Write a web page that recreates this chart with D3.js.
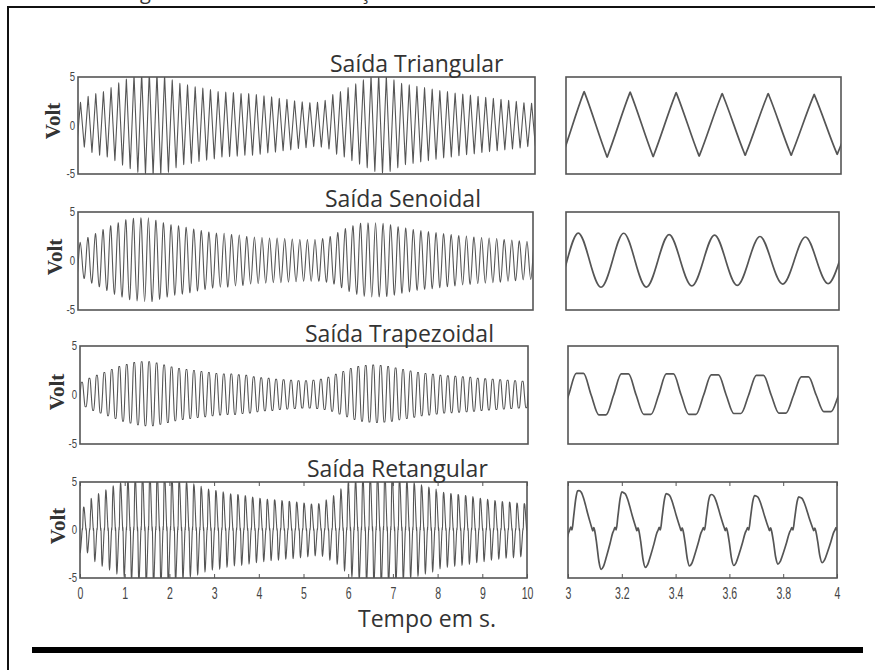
<!DOCTYPE html>
<html>
<head>
<meta charset="utf-8">
<script src="https://cdn.jsdelivr.net/npm/d3@7"></script>
<style>
  html, body { margin: 0; padding: 0; background: #fff; }
  svg { display: block; }
</style>
</head>
<body>
<div id="chart"></div>
<script>
// ---- values ----
const rowTitles = ["Saída Triangular", "Saída Senoidal", "Saída Trapezoidal", "Saída Retangular"];
const voltTicks = [-5, 0, 5];
const fullTimeTicks = [0, 1, 2, 3, 4, 5, 6, 7, 8, 9, 10];
const zoomTimeTicks = [3, 3.2, 3.4, 3.6, 3.8, 4];
const xLabel = "Tempo em s.";

// time (s) of the first peak after t = 3 s, and length of one cycle (s), per row
const peakNear3s = [3.066, 3.045, 3.044, 3.041];
const cyclePeriod = [0.1673, 0.1664, 0.1667, 0.1643];

// positive peak (V) of each cycle; index 18 is the cycle peaking at peakNear3s
const triPeaks = [2.4, 3.0, 3.3, 3.5, 3.9, 4.4, 4.8, 5.2, 5.4, 5.5,
  5.4, 5.2, 4.7, 4.35, 4.2, 4.0, 3.85, 3.7, 3.5, 3.45,
  3.4, 3.3, 3.3, 3.2, 3.05, 2.95, 2.8, 2.7, 2.55, 2.45,
  2.35, 2.4, 2.6, 3.2, 3.5, 3.9, 4.3, 4.7, 5.1, 5.3,
  5.1, 4.7, 4.35, 4.2, 4.05, 3.9, 3.75, 3.6, 3.5, 3.35,
  3.25, 3.15, 3.0, 2.9, 2.8, 2.7, 2.6, 2.5, 2.35, 2.3];
const sinePeaks = [1.9, 2.4, 2.8, 3.2, 3.6, 3.9, 4.2, 4.35, 4.4, 4.4,
  4.15, 3.9, 3.7, 3.6, 3.45, 3.25, 3.1, 2.95, 2.85, 2.83,
  2.7, 2.65, 2.5, 2.45, 2.4, 2.35, 2.35, 2.3, 2.25, 2.2,
  2.2, 2.2, 2.3, 2.5, 2.9, 3.3, 3.6, 3.85, 3.9, 3.9,
  3.85, 3.7, 3.5, 3.35, 3.2, 3.1, 3.0, 2.9, 2.8, 2.7,
  2.6, 2.55, 2.45, 2.4, 2.35, 2.3, 2.2, 2.15, 2.05, 2.0];
const trapPeaks = [1.3, 1.7, 2.0, 2.3, 2.6, 2.9, 3.1, 3.3, 3.4, 3.4,
  3.25, 3.05, 2.85, 2.7, 2.6, 2.5, 2.4, 2.3, 2.2, 2.15,
  2.15, 2.05, 2.0, 1.85, 1.75, 1.7, 1.6, 1.55, 1.5, 1.45,
  1.45, 1.5, 1.6, 1.8, 2.1, 2.4, 2.7, 2.9, 3.0, 3.05,
  3.0, 2.9, 2.75, 2.6, 2.45, 2.3, 2.2, 2.1, 2.0, 1.95,
  1.9, 1.85, 1.8, 1.7, 1.65, 1.6, 1.55, 1.5, 1.45, 1.4];
const rectPeaks = [2.4, 3.3, 3.8, 4.2, 4.6, 4.95, 5.3, 5.6, 5.8, 5.9,
  5.9, 5.8, 5.5, 5.2, 4.95, 4.7, 4.4, 4.2, 4.1, 3.9,
  3.75, 3.7, 3.55, 3.4, 3.3, 3.2, 3.15, 3.05, 3.0, 2.9,
  2.8, 2.7, 2.75, 3.15, 3.6, 4.3, 4.95, 5.3, 5.6, 5.8,
  5.9, 5.8, 5.6, 5.35, 5.1, 4.85, 4.6, 4.4, 4.05, 3.9,
  3.8, 3.7, 3.6, 3.4, 3.3, 3.15, 3.05, 2.95, 2.9, 2.8, 2.75];

// one cycle from its peak: [phase 0..1, value relative to that cycle's peak]
const triShape = [[-0.02, 0.93], [0, 1], [0.02, 0.93], [0.48, -0.86], [0.5, -0.93], [0.52, -0.86]];
const sineShape = [[0, 1], [0.25, 0], [0.5, -0.94], [0.75, 0]];
const trapShape = [[-0.08, 1], [0.08, 1], [0.25, 0], [0.42, -0.92], [0.58, -0.92], [0.75, 0]];
const rectShape = [[0, 1], [0.05, 0.96], [0.1, 0.82], [0.15, 0.62], [0.2, 0.4], [0.25, 0.2],
  [0.29, 0.05], [0.31, -0.02], [0.335, 0.06], [0.36, -0.05], [0.4, -0.35], [0.45, -0.8],
  [0.5, -1.0], [0.55, -0.93], [0.62, -0.68], [0.7, -0.35], [0.76, -0.08], [0.79, 0.0],
  [0.815, 0.07], [0.84, 0.0], [0.88, 0.35], [0.93, 0.8], [0.97, 0.97]];

// ---- layout ----
const width = 875, height = 670;
const boxes = [
  {y0: 77, y1: 174, lx0: 78, lx1: 535, rx0: 566, rx1: 841, tx: 330, ty: 71.5, vx: 53, vy: 121},
  {y0: 212, y1: 310, lx0: 78, lx1: 533, rx0: 566, rx1: 839, tx: 325, ty: 206.5, vx: 55, vy: 257},
  {y0: 346, y1: 444, lx0: 80, lx1: 528, rx0: 568, rx1: 838, tx: 305, ty: 341.5, vx: 57, vy: 392},
  {y0: 482, y1: 578, lx0: 80, lx1: 527, rx0: 568, rx1: 837, tx: 307, ty: 477, vx: 58, vy: 526}
];

const rows = [
  {title: rowTitles[0], peaks: triPeaks, shape: triShape, curve: d3.curveMonotoneX},
  {title: rowTitles[1], peaks: sinePeaks, shape: sineShape, curve: d3.curveNatural},
  {title: rowTitles[2], peaks: trapPeaks, shape: trapShape, curve: d3.curveMonotoneX},
  {title: rowTitles[3], peaks: rectPeaks, shape: rectShape, curve: d3.curveMonotoneX}
];

function buildSignal(peaks, shape, tRef, period) {
  const pts = [];
  for (let k = -1; k <= peaks.length; k++) {
    const amp = peaks[Math.max(0, Math.min(peaks.length - 1, k))];
    shape.forEach(([p, v]) => pts.push([tRef + (k - 18 + p) * period, v * amp]));
  }
  return pts;
}

const svg = d3.select("#chart").append("svg")
  .attr("width", width)
  .attr("height", height);

const defs = svg.append("defs");

// cut-off caption from the page above (only its descenders show)
svg.append("text").attr("x", 140).attr("y", -1).text("g")
  .attr("font-family", "Open Sans, sans-serif").attr("font-size", 20).attr("fill", "#333");
svg.append("text").attr("x", 360).attr("y", -1).text("ç")
  .attr("font-family", "Open Sans, sans-serif").attr("font-size", 20).attr("fill", "#333");

// outer frame
svg.append("rect")
  .attr("x", 8).attr("y", 7).attr("width", 890).attr("height", 700)
  .attr("fill", "none").attr("stroke", "#111").attr("stroke-width", 2);

function narrow(sel, sx) {
  sel.selectAll("text").attr("transform", `scale(${sx},1)`);
}

rows.forEach((row, i) => {
  const b = boxes[i];
  const y = d3.scaleLinear().domain([-5, 5]).range([b.y1, b.y0]);
  const xFull = d3.scaleLinear().domain([0, 10]).range([b.lx0, b.lx1]);
  const xZoom = d3.scaleLinear().domain([3, 4]).range([b.rx0, b.rx1]);
  const signal = buildSignal(row.peaks, row.shape, peakNear3s[i], cyclePeriod[i]);

  [["L", xFull, b.lx0, b.lx1, 1.1, "#555"], ["R", xZoom, b.rx0, b.rx1, 1.7, "#555"]]
    .forEach(([side, x, x0, x1, sw, col]) => {
      const id = `clip${i}${side}`;
      defs.append("clipPath").attr("id", id)
        .append("rect").attr("x", x0).attr("y", b.y0).attr("width", x1 - x0).attr("height", b.y1 - b.y0);

      const line = d3.line()
        .x(d => x(d[0]))
        .y(d => y(d[1]))
        .curve(row.curve);

      const [d0, d1] = x.domain();
      const pts = signal.filter(d => d[0] >= d0 - 0.4 && d[0] <= d1 + 0.4);

      svg.append("path")
        .datum(pts)
        .attr("clip-path", `url(#${id})`)
        .attr("d", line)
        .attr("fill", "none")
        .attr("stroke", col)
        .attr("stroke-width", sw)
        .attr("stroke-linejoin", "round");

      svg.append("rect")
        .attr("x", x0).attr("y", b.y0).attr("width", x1 - x0).attr("height", b.y1 - b.y0)
        .attr("fill", "none").attr("stroke", "#555").attr("stroke-width", 1.6);
    });

  // volt axis labels
  const yAxis = svg.append("g")
    .attr("transform", `translate(${b.lx0 - 3},0)`)
    .call(d3.axisLeft(y).tickValues(voltTicks).tickSize(0).tickPadding(0).tickFormat(d => String(d)));
  yAxis.select(".domain").remove();
  yAxis.selectAll("text")
    .attr("font-family", "Liberation Sans, Arial, sans-serif")
    .attr("font-size", 12)
    .attr("fill", "#444");
  narrow(yAxis, 0.8);

  svg.append("text")
    .attr("transform", `translate(${b.vx},${b.vy}) rotate(-90)`)
    .attr("text-anchor", "middle")
    .attr("dy", "0.35em")
    .attr("font-family", "Liberation Serif, DejaVu Serif, serif")
    .attr("font-weight", "bold")
    .attr("font-size", 21)
    .attr("fill", "#333")
    .text("Volt");

  svg.append("text")
    .attr("x", b.tx).attr("y", b.ty)
    .attr("font-family", "Open Sans, sans-serif")
    .attr("font-size", 23)
    .attr("fill", "#333")
    .text(row.title);

  // time axes only under the last row
  if (i === rows.length - 1) {
    [[xFull, fullTimeTicks], [xZoom, zoomTimeTicks]].forEach(([x, ticks]) => {
      const bottom = svg.append("g")
        .attr("transform", `translate(0,${b.y1})`)
        .call(d3.axisBottom(x).tickValues(ticks).tickSizeInner(-4).tickSizeOuter(0).tickPadding(9)
          .tickFormat(d => String(d)));
      bottom.select(".domain").remove();
      bottom.selectAll("line").attr("stroke", "#555");
      bottom.selectAll("text")
        .attr("font-family", "Liberation Sans, Arial, sans-serif")
        .attr("font-size", 17)
        .attr("fill", "#444");
      narrow(bottom, 0.62);

      const top = svg.append("g")
        .attr("transform", `translate(0,${b.y0})`)
        .call(d3.axisTop(x).tickValues(ticks).tickSizeInner(-4).tickSizeOuter(0).tickFormat(""));
      top.select(".domain").remove();
      top.selectAll("line").attr("stroke", "#555");
    });
  }
});

svg.append("text")
  .attr("x", 358).attr("y", 627)
  .attr("font-family", "Open Sans, sans-serif")
  .attr("font-size", 23)
  .attr("fill", "#333")
  .text(xLabel);

svg.append("rect")
  .attr("x", 32).attr("y", 647).attr("width", 831).attr("height", 6)
  .attr("fill", "#000");
</script>
</body>
</html>
